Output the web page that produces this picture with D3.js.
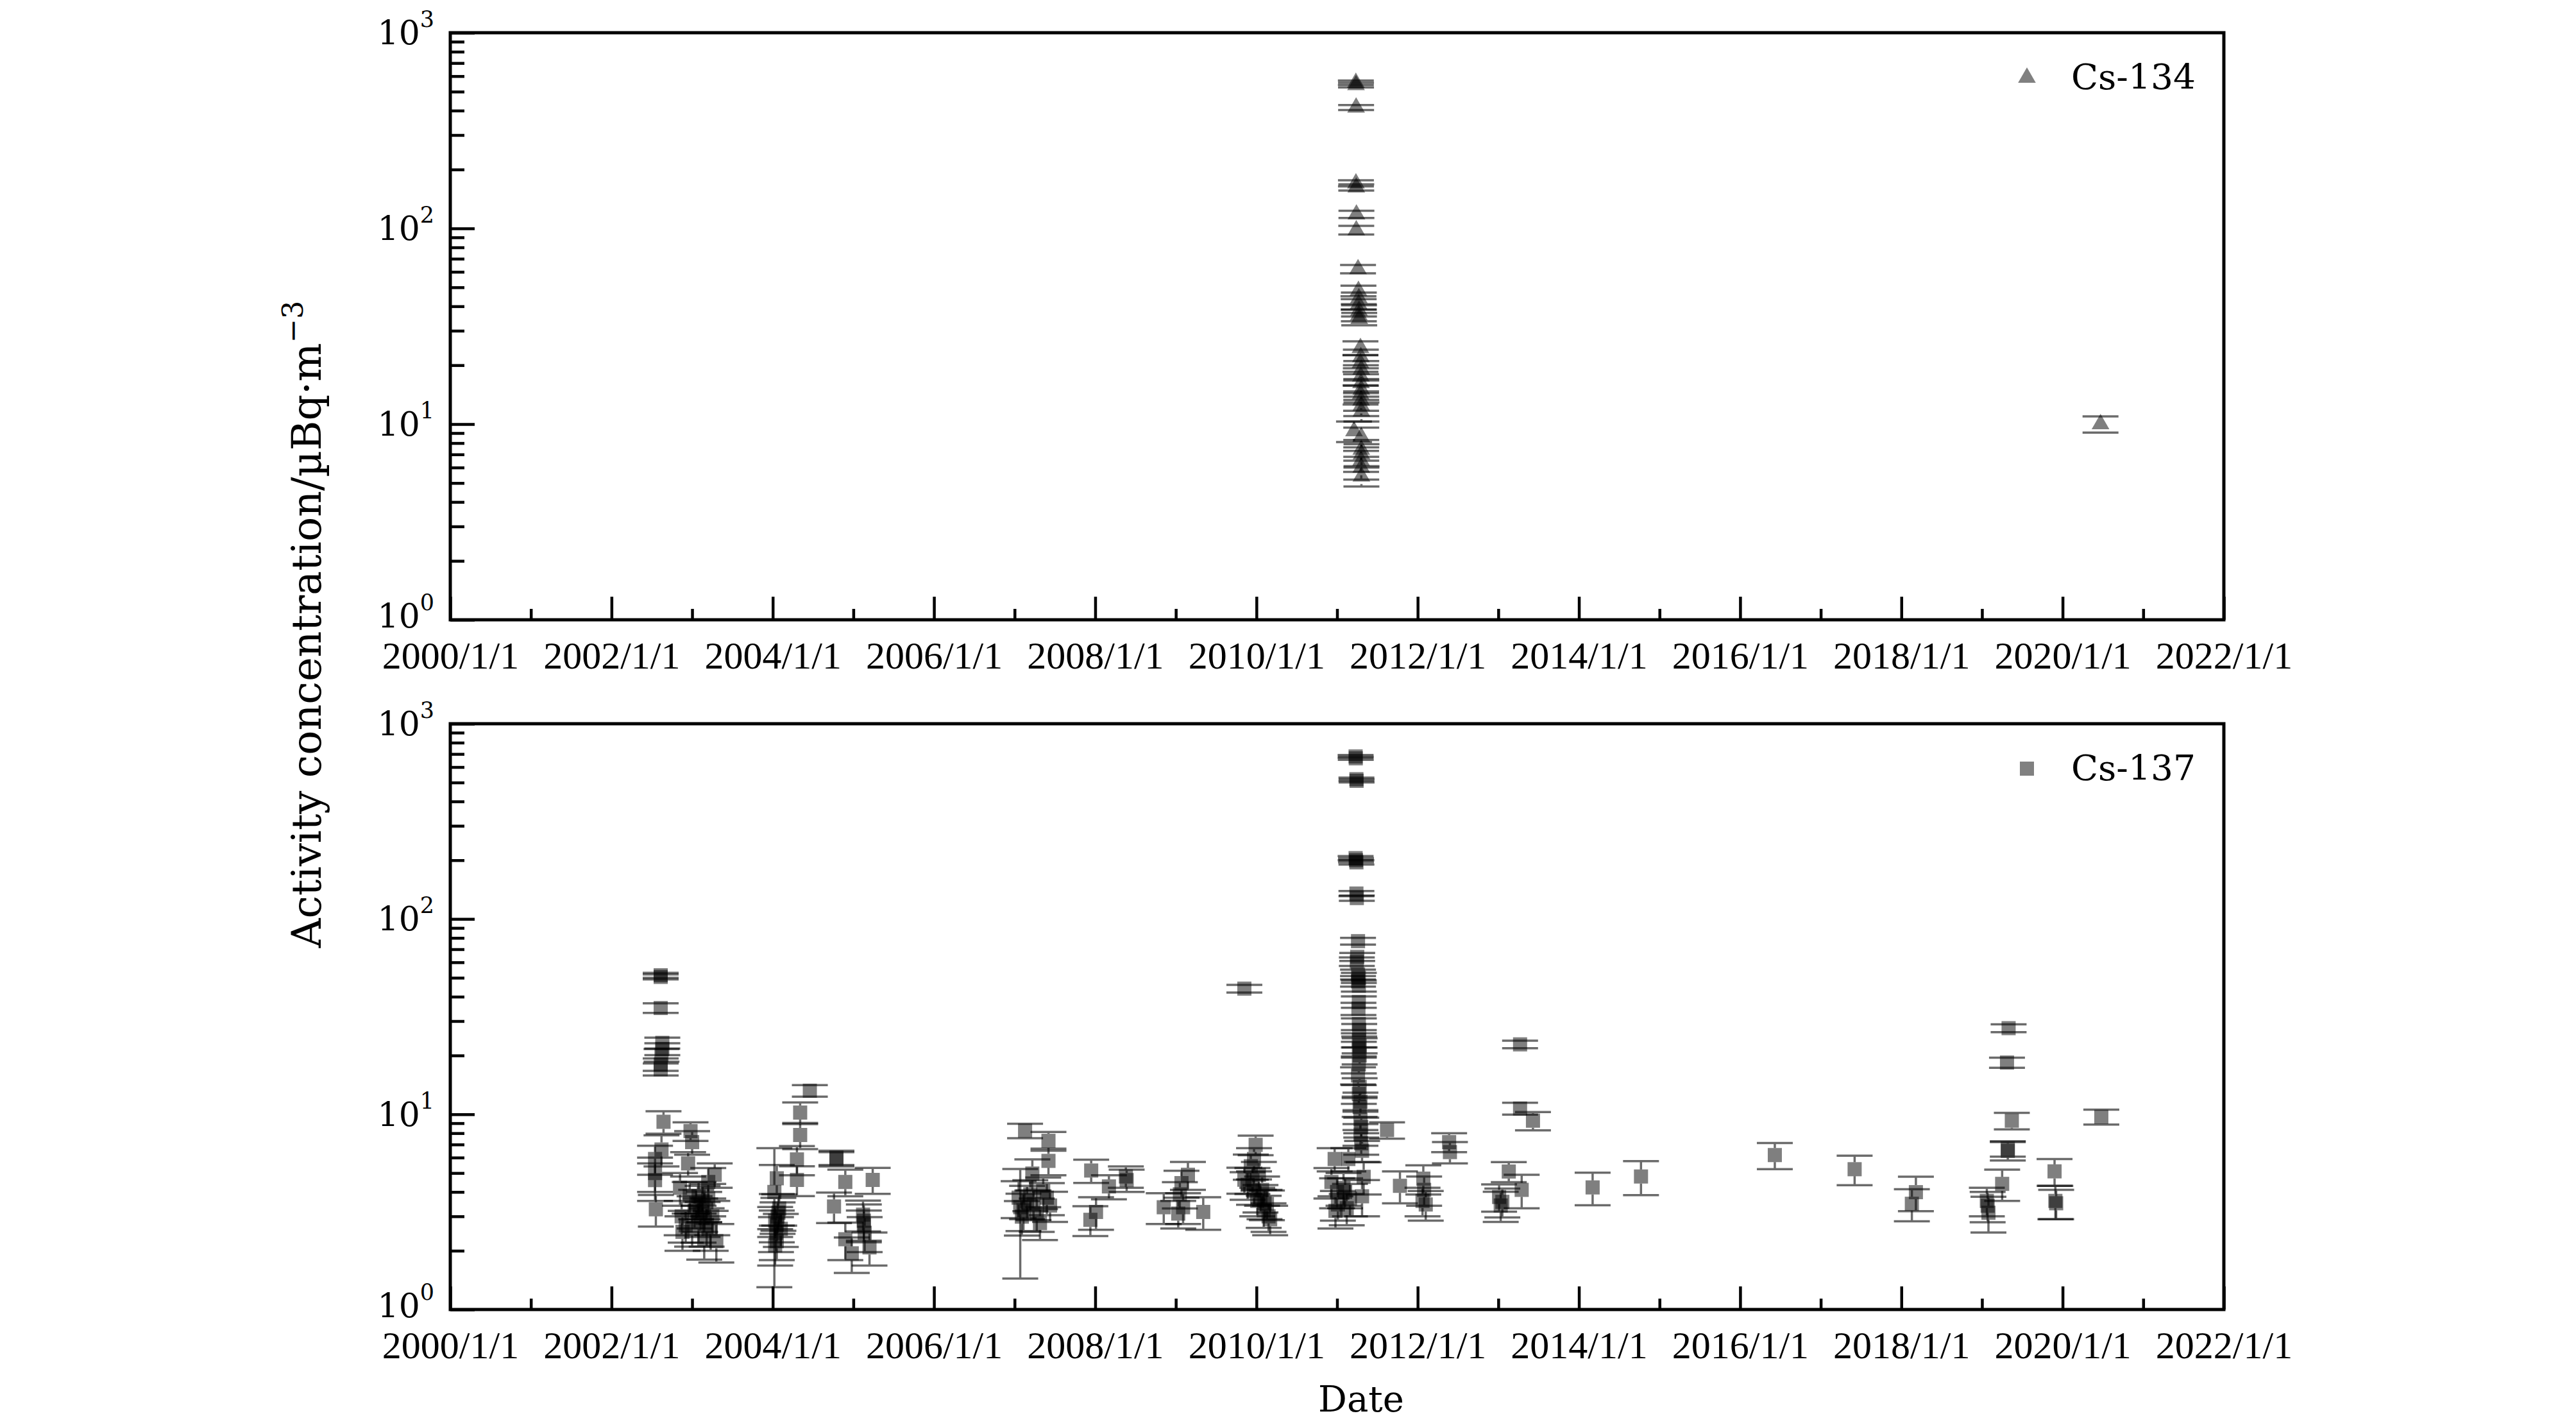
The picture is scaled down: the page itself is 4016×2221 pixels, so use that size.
<!DOCTYPE html>
<html lang="en">
<head>
<meta charset="UTF-8">
<title>Cs-134 / Cs-137 activity concentration</title>
<script src="https://d3js.org/d3.v7.min.js"></script>
<style>
  body { margin: 0; background: #fff; }
  svg { display: block; }
</style>
</head>
<body>
<svg id="chart" width="4016" height="2221"></svg>
<script>
// ---- data (decimal year, activity in µBq/m3, 1-sigma error) ----
const cs134Date = [
  2011.233, 2011.235, 2011.236, 2011.234, 2011.238, 2011.24, 2011.238,
  2011.26, 2011.265, 2011.27, 2011.268, 2011.272, 2011.27, 2011.275,
  2011.29, 2011.295, 2011.29, 2011.3, 2011.295, 2011.297, 2011.3, 2011.292,
  2011.298, 2011.3, 2011.302, 2011.21, 2011.3, 2011.3, 2011.303, 2011.298,
  2011.3, 2011.302, 2020.47
];
const cs134Value = [
  555, 540, 415, 170, 162, 118, 98,
  62, 48, 44, 41, 38, 36, 34.5,
  24.5, 22, 20.5, 19, 17.5, 16.2, 15, 14.2,
  13.2, 12.4, 11.6, 9.2, 8.6, 7.4, 7.0, 6.5,
  6.0, 5.4, 10.0
];
const cs134Err = [
  15, 15, 12, 6, 6, 5, 5,
  3, 3, 3, 2.5, 2.5, 2.5, 2.5,
  2, 2, 2, 2, 1.8, 1.8, 1.7, 1.6,
  1.5, 1.4, 1.3, 1.1, 1.0, 0.9, 0.9, 0.8,
  0.8, 0.6, 0.95
];

const cs137Date = [
  // 2002-2003
  2002.61, 2002.61, 2002.61, 2002.63, 2002.63, 2002.62, 2002.61, 2002.61, 2002.645, 2002.62,
  2002.54, 2002.54, 2002.54, 2002.55, 2002.98, 2003.0, 2002.95, 2003.28, 2002.85, 2002.87,
  2002.88, 2002.92, 2002.97, 2003.0, 2003.03, 2003.05, 2003.08, 2003.1, 2003.13, 2003.13,
  2003.15, 2003.18, 2003.2, 2003.23, 2003.25, 2003.3, 2003.08, 2003.15, 2003.2,
  // 2004-2005
  2004.02, 2004.05, 2004.03, 2004.05, 2004.07, 2004.04, 2004.03, 2004.05, 2004.08, 2004.06,
  2004.1, 2004.3, 2004.3, 2004.34, 2004.34, 2004.46, 2004.79, 2004.79, 2004.9, 2004.76,
  2004.9, 2004.98, 2005.13, 2005.13, 2005.14, 2005.12, 2005.2, 2005.24,
  // 2007
  2007.13, 2007.42, 2007.42, 2007.22, 2007.05, 2007.11, 2007.155, 2007.235, 2007.355, 2007.44,
  2007.09, 2007.275, 2007.40, 2007.195, 2007.07, 2007.315,
  // 2008-2009
  2007.95, 2008.17, 2008.38, 2008.39, 2008.01, 2007.94, 2008.85, 2009.07, 2009.05, 2009.09,
  2009.03, 2009.15, 2009.34,
  // 2010
  2009.85, 2009.99, 2009.93, 2009.85, 2009.89, 2009.97, 2010.05, 2010.13, 2010.09, 2010.01,
  2009.95, 2010.07, 2010.15, 2010.17, 2010.03, 2009.97, 2010.1,
  // 2011 (Fukushima)
  2011.23, 2011.232, 2011.24, 2011.242, 2011.23, 2011.235, 2011.24, 2011.24, 2011.245, 2011.26,
  2011.25, 2011.245, 2011.26, 2011.27, 2011.26, 2011.27, 2011.27, 2011.265, 2011.27, 2011.275,
  2011.27, 2011.28, 2011.27, 2011.28, 2011.27, 2011.26, 2011.28, 2011.27, 2011.29, 2011.28,
  2011.29, 2011.3, 2011.29, 2011.3, 2011.31, 2011.62, 2010.97, 2011.14, 2011.33, 2011.31,
  2010.93, 2011.0, 2011.01, 2011.1, 2011.16, 2011.08, 2010.98, 2011.12,
  // 2012-2013
  2011.78, 2012.07, 2012.08, 2012.06, 2012.1, 2012.39, 2012.4, 2013.27, 2013.27, 2013.43,
  2013.13, 2013.01, 2013.05, 2013.03, 2013.29,
  // 2014-2020
  2014.17, 2014.77, 2016.43, 2017.42, 2018.18, 2018.13, 2019.06, 2019.08, 2019.07, 2019.25,
  2019.32, 2019.32, 2019.37, 2019.31, 2019.33, 2019.9, 2019.91, 2019.92, 2020.48
];
const cs137Value = [
  51.5, 50.5, 35, 23.2, 21.6, 20.1, 18, 17, 9.15, 6.6,
  5.9, 5.0, 4.6, 3.26, 8.2, 7.2, 5.6, 4.9, 4.2, 3.0,
  2.5, 2.7, 3.8, 2.6, 3.2, 3.5, 2.8, 3.1, 3.6, 2.95,
  3.4, 2.7, 3.7, 2.6, 3.0, 2.24, 3.8, 2.3, 4.5,

  4.0, 4.7, 2.85, 2.71, 3.13, 2.47, 2.13, 2.24, 3.29, 2.99,
  2.59, 4.61, 5.87, 7.83, 10.2, 13.2, 6.0, 5.9, 4.5, 3.37,
  2.29, 1.94, 2.85, 2.71, 2.47, 3.06, 2.08, 4.61,

  8.24, 7.31, 5.77, 4.97, 3.74, 3.22, 3.6, 3.47, 4.04, 3.41,
  2.99, 3.10, 3.74, 3.89, 3.34, 2.77,

  5.15, 4.27, 4.8, 4.6, 3.16, 2.88, 3.34, 4.44, 3.89, 3.34,
  3.1, 4.9, 3.16,

  44, 6.97, 5.42, 4.62, 4.35, 4.04, 3.74, 3.47, 3.22, 3.6,
  4.6, 4.1, 3.0, 2.9, 4.9, 5.9, 3.5,

  680, 665, 520, 510, 205, 200, 195, 135, 128, 77,
  64, 60.5, 52, 50, 48, 45.5, 37.6, 34.7, 29, 27,
  24, 22.5, 21.5, 20, 18, 15.8, 13.8, 12.7, 11.6, 10.9,
  9.4, 8.6, 7.9, 7.1, 6.5, 8.3, 5.9, 5.9, 4.78, 3.8,
  4.5, 4.0, 3.45, 4.0, 3.7, 4.2, 3.2, 3.3,

  4.3, 4.68, 4.1, 3.6, 3.45, 7.2, 6.4, 22.8, 10.7, 9.27,
  5.09, 3.77, 3.56, 3.41, 4.1,

  4.22, 4.8, 6.18, 5.23, 3.99, 3.48, 3.6, 3.13, 3.4, 4.4,
  6.67, 6.5, 9.27, 18.4, 27.6, 5.1, 3.6, 3.5, 9.7
];
const cs137Err = [
  1.5, 1.5, 2, 1.5, 1.5, 1.5, 1.3, 1.2, 1.2, 1.2,
  1.0, 1.0, 1.0, 0.6, 0.9, 1.0, 0.8, 0.7, 0.8, 0.6,
  0.5, 0.5, 0.7, 0.5, 0.6, 0.6, 0.6, 0.6, 0.7, 0.6,
  0.6, 0.6, 0.7, 0.6, 0.6, 0.5, 0.7, 0.5, 0.8,

  2.7, 0.8, 0.5, 0.5, 0.6, 0.5, 0.45, 0.45, 0.6, 0.55,
  0.5, 0.8, 1.0, 1.2, 1.3, 0.9, 0.5, 0.5, 0.7, 0.6,
  0.5, 0.4, 0.6, 0.5, 0.5, 0.55, 0.4, 0.7,

  0.7, 0.8, 0.9, 0.9, 0.8, 0.7, 0.7, 0.6, 0.7, 0.6,
  0.6, 0.6, 0.7, 0.7, 1.9, 0.5,

  0.7, 0.6, 0.6, 0.6, 0.6, 0.5, 0.6, 0.7, 0.6, 0.6,
  0.5, 0.8, 0.6,

  2, 0.8, 0.8, 0.7, 0.7, 0.6, 0.6, 0.6, 0.6, 0.6,
  0.7, 0.7, 0.5, 0.5, 0.8, 0.8, 0.6,

  12, 12, 10, 10, 5, 5, 5, 4, 4, 3,
  3, 3, 3, 3, 3, 3, 2.5, 2.5, 2, 2,
  2, 2, 2, 2, 1.8, 1.6, 1.5, 1.4, 1.3, 1.2,
  1.1, 1.0, 1.0, 0.9, 0.8, 0.8, 0.8, 0.8, 0.9, 0.8,
  0.8, 0.7, 0.6, 0.7, 0.7, 0.8, 0.6, 0.6,

  0.8, 0.8, 0.7, 0.6, 0.6, 0.8, 0.8, 1.0, 0.75, 1.0,
  0.6, 0.6, 0.6, 0.6, 0.8,

  0.8, 0.95, 0.95, 0.9, 0.8, 0.65, 0.6, 0.65, 0.6, 0.8,
  0.6, 0.7, 0.9, 1.1, 1.3, 0.8, 0.7, 0.6, 0.85
];

const xMajorTicks = d3.range(2000, 2023, 2);
const xMinorTicks = d3.range(2001, 2022, 2);
const yMajorTicks = [1, 10, 100, 1000];
const yMinorTicks = [2, 3, 4, 5, 6, 7, 8, 9, 20, 30, 40, 50, 60, 70, 80, 90, 200, 300, 400, 500, 600, 700, 800, 900];

// ---- layout ----
const svg = d3.select("#chart");
const left = 702, right = 3467;
const cmFont = "'DejaVu Serif', serif";
const timesFont = "'Liberation Serif', 'Times New Roman', serif";

const x = d3.scaleLinear().domain([2000, 2022]).range([left, right]);

const panels = [
  { top: 51, bottom: 966, name: "Cs-134", shape: "triangle",
    dates: cs134Date, values: cs134Value, errs: cs134Err },
  { top: 1128, bottom: 2041, name: "Cs-137", shape: "square",
    dates: cs137Date, values: cs137Value, errs: cs137Err }
];

const triPath = d3.symbol().type(d3.symbolTriangle).size(330)();
const sq = 22;

panels.forEach(p => {
  const y = d3.scaleLog().domain([1, 1000]).range([p.bottom, p.top]);
  const g = svg.append("g");
  const pts = p.dates.map((d, i) => ({ x: d, v: p.values[i], e: p.errs[i] }));

  // error bars (drawn outside the marker, with caps)
  const half = p.shape === "square" ? sq / 2 : 12;
  g.append("g").selectAll("path")
    .data(pts)
    .join("path")
    .attr("d", d => {
      const cx = x(d.x), cy = y(d.v);
      const yHi = y(d.v + d.e), yLo = y(Math.max(d.v - d.e, 1.01));
      let s = `M${cx - 28},${yHi}H${cx + 28}M${cx - 28},${yLo}H${cx + 28}`;
      if (yHi < cy - half) s += `M${cx},${yHi}V${cy - half}`;
      if (yLo > cy + half) s += `M${cx},${cy + half}V${yLo}`;
      return s;
    })
    .attr("fill", "none")
    .attr("stroke", "#000")
    .attr("stroke-opacity", 0.58)
    .attr("stroke-width", 3.5);

  // markers
  const marks = g.append("g");
  if (p.shape === "square") {
    marks.selectAll("rect").data(pts).join("rect")
      .attr("x", d => x(d.x) - sq / 2)
      .attr("y", d => y(d.v) - sq / 2)
      .attr("width", sq).attr("height", sq)
      .attr("fill", "#000").attr("fill-opacity", 0.5);
  } else {
    marks.selectAll("path").data(pts).join("path")
      .attr("d", triPath)
      .attr("transform", d => `translate(${x(d.x)},${y(d.v)})`)
      .attr("fill", "#000").attr("fill-opacity", 0.5);
  }

  // x axis: major + minor ticks pointing inward
  const xAxisMajor = d3.axisBottom(x).tickValues(xMajorTicks)
    .tickSizeInner(-36).tickSizeOuter(0).tickPadding(33)
    .tickFormat(d => d + "/1/1");
  g.append("g").attr("transform", `translate(0,${p.bottom})`).call(xAxisMajor)
    .attr("font-family", timesFont).attr("font-size", 60)
    .call(a => a.select(".domain").remove())
    .call(a => a.selectAll("line").attr("stroke", "#000").attr("stroke-width", 4.5))
    .call(a => a.selectAll("text").attr("fill", "#000"));

  const xAxisMinor = d3.axisBottom(x).tickValues(xMinorTicks)
    .tickSizeInner(-17).tickSizeOuter(0).tickFormat("");
  g.append("g").attr("transform", `translate(0,${p.bottom})`).call(xAxisMinor)
    .call(a => a.select(".domain").remove())
    .call(a => a.selectAll("line").attr("stroke", "#000").attr("stroke-width", 4.5));

  // y axis: log ticks
  const yAxisMajor = d3.axisLeft(y).tickValues(yMajorTicks)
    .tickSizeInner(-38).tickSizeOuter(0).tickFormat("");
  g.append("g").attr("transform", `translate(${left},0)`).call(yAxisMajor)
    .call(a => a.select(".domain").remove())
    .call(a => a.selectAll("line").attr("stroke", "#000").attr("stroke-width", 4.5));

  const yAxisMinor = d3.axisLeft(y).tickValues(yMinorTicks)
    .tickSizeInner(-22).tickSizeOuter(0).tickFormat("");
  g.append("g").attr("transform", `translate(${left},0)`).call(yAxisMinor)
    .call(a => a.select(".domain").remove())
    .call(a => a.selectAll("line").attr("stroke", "#000").attr("stroke-width", 4.5));

  // y tick labels 10^n
  const lab = g.append("g").selectAll("text").data(yMajorTicks).join("text")
    .attr("x", 677)
    .attr("y", d => y(d) + (d === 1 ? 12 : 18))
    .attr("text-anchor", "end")
    .attr("font-family", cmFont)
    .attr("fill", "#000");
  lab.append("tspan").attr("font-size", 52).text("10");
  lab.append("tspan").attr("font-size", 35).attr("dy", -27)
    .text(d => Math.round(Math.log10(d)));

  // frame
  g.append("rect")
    .attr("x", left).attr("y", p.top)
    .attr("width", right - left).attr("height", p.bottom - p.top)
    .attr("fill", "none").attr("stroke", "#000").attr("stroke-width", 5);

  // legend
  const lg = g.append("g").attr("transform", `translate(3160,${p.top + 70})`);
  if (p.shape === "square") {
    lg.append("rect").attr("x", -sq / 2).attr("y", -sq / 2)
      .attr("width", sq).attr("height", sq).attr("fill", "#808080");
  } else {
    lg.append("path").attr("d", triPath).attr("fill", "#808080");
  }
  lg.append("text").attr("x", 69).attr("y", 18)
    .attr("font-family", cmFont).attr("font-size", 55).attr("fill", "#000")
    .text(p.name);
});

// axis titles
svg.append("text")
  .attr("x", 2122).attr("y", 2200)
  .attr("text-anchor", "middle")
  .attr("font-family", cmFont).attr("font-size", 56).attr("fill", "#000")
  .text("Date");

const yTitle = svg.append("text")
  .attr("transform", "translate(500,973) rotate(-90)")
  .attr("text-anchor", "middle")
  .attr("font-family", cmFont).attr("font-size", 54).attr("fill", "#000");
yTitle.append("tspan").text("Activity concentration/\u00B5Bq\u00B7m");
yTitle.append("tspan").attr("font-size", 38).attr("dy", -24).text("\u22123");

// fit title to the reference length
const wTitle = yTitle.node().getComputedTextLength();
if (wTitle > 0) {
  const k = 1009 / wTitle;
  yTitle.attr("font-size", 54 * k);
  yTitle.selectAll("tspan").filter((d, i) => i === 1)
    .attr("font-size", 38 * k).attr("dy", -24 * k);
}
</script>
</body>
</html>
